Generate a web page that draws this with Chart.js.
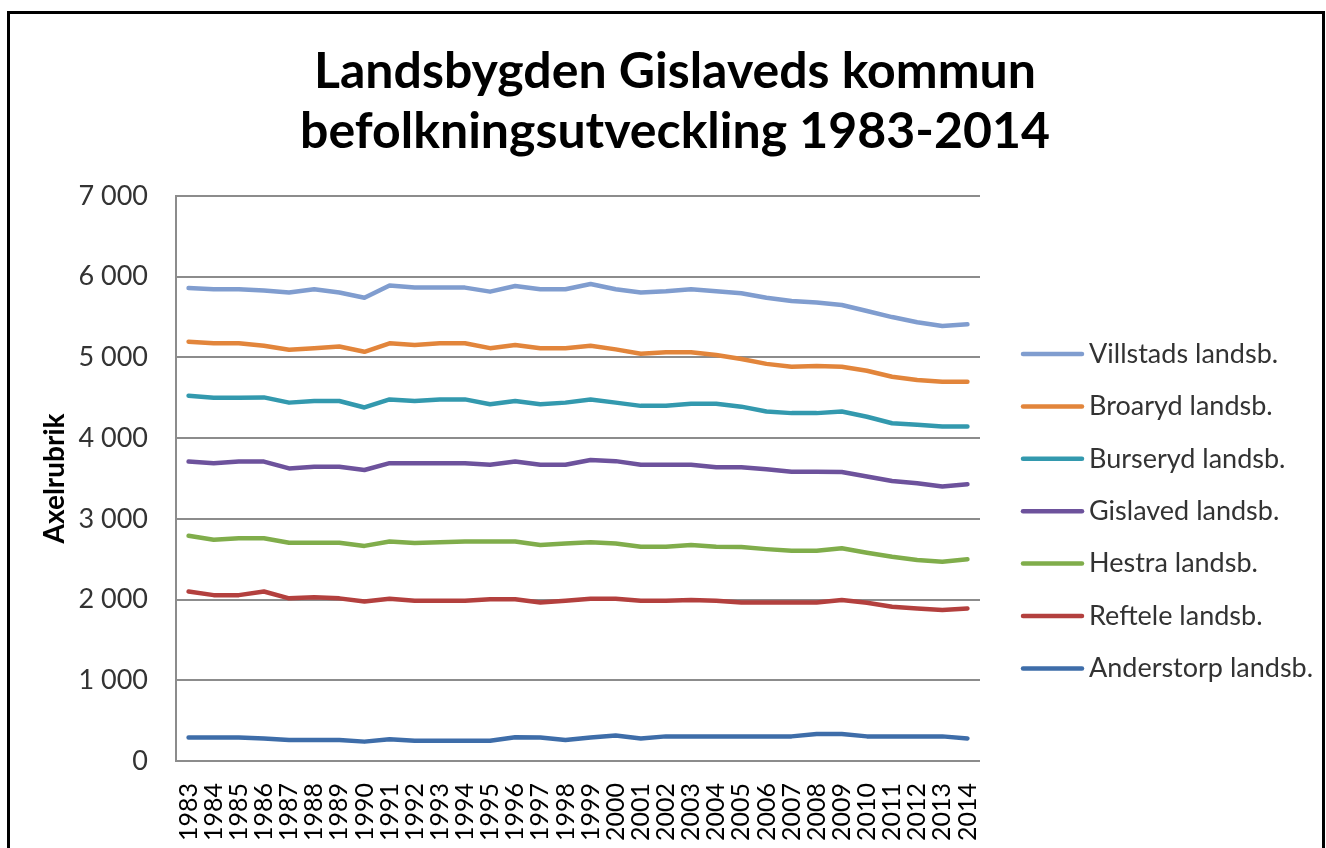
<!DOCTYPE html>
<html lang="sv">
<head>
<meta charset="utf-8">
<title>Landsbygden Gislaveds kommun</title>
<script src="https://cdn.jsdelivr.net/npm/chart.js@4/dist/chart.umd.min.js"></script>
<style>
  html, body { margin: 0; padding: 0; background: #fff; overflow: hidden; }
  #wrap { position: relative; width: 1326px; height: 848px; }
  #frame {
    position: absolute; left: 7px; top: 11px; width: 1312px; height: 900px;
    border: 3px solid #000; pointer-events: none;
  }
  #chart { position: absolute; left: 0; top: 0; }
</style>
</head>
<body>
<div id="wrap">
  <div id="frame"></div>
  <canvas id="chart" width="1326" height="848"></canvas>
</div>
<script>
// Years on the x axis
const YEARS = ['1983', '1984', '1985', '1986', '1987', '1988', '1989', '1990', '1991', '1992',
  '1993', '1994', '1995', '1996', '1997', '1998', '1999', '2000', '2001', '2002', '2003',
  '2004', '2005', '2006', '2007', '2008', '2009', '2010', '2011', '2012', '2013', '2014'];

// Population per area
const VILLSTADS = [5860, 5845, 5845, 5830, 5805, 5845, 5805, 5740, 5890, 5865, 5865, 5865, 5815, 5885, 5845, 5845,
  5910, 5845, 5805, 5820, 5845, 5820, 5795, 5740, 5700, 5680, 5650, 5575, 5500, 5435, 5390, 5410];
const BROARYD = [5195, 5175, 5175, 5145, 5095, 5115, 5135, 5070, 5175, 5155, 5175, 5175, 5115, 5155, 5115, 5115,
  5145, 5100, 5045, 5065, 5065, 5030, 4980, 4920, 4885, 4895, 4885, 4835, 4760, 4720, 4700, 4700];
const BURSERYD = [4525, 4500, 4500, 4505, 4440, 4460, 4460, 4380, 4480, 4460, 4480, 4480, 4420, 4460, 4420, 4440,
  4480, 4440, 4400, 4400, 4425, 4425, 4390, 4330, 4310, 4310, 4330, 4265, 4185, 4165, 4145, 4145];
const GISLAVED = [3710, 3690, 3710, 3710, 3625, 3645, 3645, 3605, 3690, 3690, 3690, 3690, 3670, 3710, 3670, 3670,
  3730, 3715, 3670, 3670, 3670, 3640, 3640, 3615, 3585, 3585, 3580, 3525, 3470, 3440, 3400, 3430];
const HESTRA = [2790, 2740, 2760, 2760, 2705, 2705, 2705, 2665, 2720, 2700, 2710, 2720, 2720, 2720, 2675, 2695,
  2710, 2695, 2655, 2655, 2675, 2655, 2650, 2625, 2605, 2605, 2635, 2580, 2530, 2490, 2470, 2500];
const REFTELE = [2100, 2055, 2055, 2100, 2015, 2030, 2015, 1975, 2010, 1985, 1985, 1985, 2005, 2005, 1965, 1985,
  2010, 2010, 1985, 1985, 1995, 1985, 1965, 1965, 1965, 1965, 1995, 1960, 1910, 1890, 1870, 1890];
const ANDERSTORP = [290, 290, 290, 280, 260, 260, 260, 240, 270, 250, 250, 250, 250, 295, 290, 260,
  290, 315, 280, 305, 305, 305, 305, 305, 305, 335, 335, 305, 305, 305, 305, 280];

// Series names and colours, in legend order
const SERIES_NAMES = ['Villstads landsb.', 'Broaryd landsb.', 'Burseryd landsb.', 'Gislaved landsb.',
  'Hestra landsb.', 'Reftele landsb.', 'Anderstorp landsb.'];
const SERIES_VALUES = [VILLSTADS, BROARYD, BURSERYD, GISLAVED, HESTRA, REFTELE, ANDERSTORP];
const SERIES_COLORS = ['#809dcf', '#e2853b', '#3399ae', '#6d529c', '#80ad4b', '#b3403e', '#3e6da9'];

const FONT = 'Lato, "Open Sans", sans-serif';
const GRID = '#8c8c8c';

// Format 7000 as "7 000"
function formatThousands(value) {
  return String(value).replace(/\B(?=(\d{3})+(?!\d))/g, ' ');
}

// Legend drawn at the right, like the original
const sideLegend = {
  id: 'sideLegend',
  afterDraw(chart, args, opts) {
    const ctx = chart.ctx;
    ctx.save();
    ctx.font = opts.font;
    ctx.fillStyle = opts.color;
    ctx.textBaseline = 'middle';
    ctx.lineCap = 'round';
    chart.data.datasets.forEach((ds, i) => {
      const y = opts.top + i * opts.step;
      ctx.strokeStyle = ds.borderColor;
      ctx.lineWidth = ds.borderWidth;
      ctx.beginPath();
      ctx.moveTo(opts.lineX, y);
      ctx.lineTo(opts.lineX + opts.lineLen, y);
      ctx.stroke();
      ctx.fillText(ds.label, opts.textX, y);
    });
    ctx.restore();
  }
};

function buildDatasets() {
  return SERIES_NAMES.map((name, i) => ({
    label: name,
    data: SERIES_VALUES[i],
    borderColor: SERIES_COLORS[i],
    backgroundColor: SERIES_COLORS[i],
    borderWidth: 4.5,
    borderJoinStyle: 'round',
    borderCapStyle: 'round',
    pointRadius: 0,
    tension: 0
  }));
}

function init() {
  const canvas = document.getElementById('chart');

  new Chart(canvas, {
    type: 'line',
    data: {
      labels: YEARS,
      datasets: buildDatasets()
    },
    plugins: [sideLegend],
    options: {
      responsive: false,
      animation: false,
      layout: { padding: { left: 24, right: 0, top: 0, bottom: 0 } },
      plugins: {
        legend: { display: false },
        tooltip: { enabled: false },
        title: {
          display: true,
          text: ['Landsbygden Gislaveds kommun', 'befolkningsutveckling 1983-2014'],
          color: '#000',
          font: { family: FONT, size: 50, weight: 'bold', lineHeight: 1.2 },
          padding: { top: 42, bottom: 34 }
        },
        sideLegend: {
          font: '27px ' + FONT,
          color: '#333',
          top: 354,
          step: 52.4,
          lineX: 1023,
          lineLen: 59,
          textX: 1089
        }
      },
      scales: {
        x: {
          offset: true,
          grid: { display: false },
          border: { display: false },
          ticks: {
            autoSkip: false,
            maxRotation: 90,
            minRotation: 90,
            padding: 14,
            color: '#000',
            font: { family: FONT, size: 25 }
          },
          afterFit(scale) { scale.height = 87; }
        },
        y: {
          min: 0,
          max: 7000,
          ticks: {
            stepSize: 1000,
            padding: 28,
            color: '#333',
            font: { family: FONT, size: 27 },
            callback: (v) => formatThousands(v)
          },
          grid: { color: GRID, lineWidth: 2, drawTicks: false },
          border: { display: true, color: GRID, width: 2 },
          title: {
            display: true,
            text: 'Axelrubrik',
            color: '#000',
            font: { family: FONT, size: 28, weight: 'bold' },
            padding: { top: 14, bottom: 0 }
          },
          afterFit(scale) { scale.width = 152; }
        },
        // empty scale on the right, keeps room for the legend
        side: {
          type: 'linear',
          position: 'right',
          display: true,
          grid: { display: false },
          border: { display: false },
          ticks: { display: false },
          afterFit(scale) { scale.width = 346; }
        }
      }
    }
  });
}

if (document.fonts && document.fonts.load) {
  Promise.all([
    document.fonts.load('bold 50px Lato'),
    document.fonts.load('27px Lato')
  ]).then(init, init);
} else {
  init();
}
</script>
</body>
</html>
